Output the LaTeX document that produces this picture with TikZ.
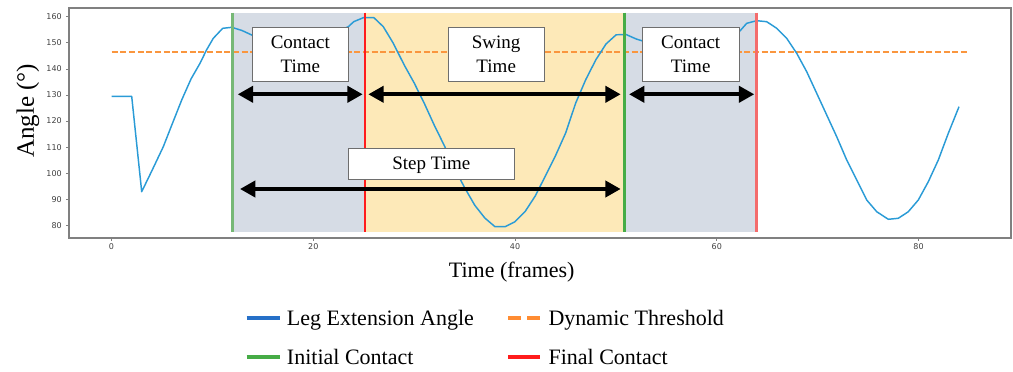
\documentclass[tikz,border=0pt]{standalone}
\usepackage{fontspec}
\setmainfont{Liberation Serif}
\newfontfamily\tickfont{DejaVu Sans}
\usepackage{tikz}
\usetikzlibrary{arrows.meta}
\definecolor{angleblue}{RGB}{42, 155, 214}
\definecolor{legblue}{RGB}{38, 112, 200}
\definecolor{throrange}{RGB}{250, 150, 62}
\definecolor{legorange}{RGB}{255, 140, 50}
\definecolor{icgreen}{RGB}{70, 172, 70}
\definecolor{icgreenlight}{RGB}{118, 184, 118}
\definecolor{fcred}{RGB}{255, 28, 28}
\definecolor{fcredlight}{RGB}{244, 108, 108}
\definecolor{stancegray}{RGB}{214, 220, 229}
\definecolor{swingyellow}{RGB}{253, 233, 184}
\definecolor{framegray}{RGB}{128, 128, 128}
\definecolor{boxgray}{RGB}{110, 110, 110}
\definecolor{ticktext}{RGB}{64, 64, 64}

\begin{document}
\begin{tikzpicture}[x=0.75pt,y=0.75pt,yscale=-1,xscale=1,
  phasebox/.style={draw=boxgray, fill=white, line width=0.75pt, inner sep=0pt, align=center, font=\fontsize{14.25}{18}\selectfont},
  gaitarrow/.style={line width=3.2pt, {Triangle[length=11.5pt,width=12pt]}-{Triangle[length=11.5pt,width=12pt]}},
  eventline/.style={line width=2.1pt},
  ticklabel/.style={inner sep=0.75pt, text=ticktext, font=\tickfont\fontsize{6}{7}\selectfont},
  legline/.style={line width=3pt},
  legtext/.style={anchor=base west, inner sep=0pt, font=\fontsize{16.5}{19}\selectfont}
]
\useasboundingbox (0,0) rectangle (1013,371);

%Shape: Rectangle (stance, swing, stance)
\fill [stancegray] (232.3,12.7) rectangle (365,231.7);
\fill [swingyellow] (365,12.7) rectangle (624.3,231.7);
\fill [stancegray] (624.3,12.7) rectangle (756.3,231.7);

%Straight Lines (threshold)
\draw [throrange, line width=1.3pt, dash pattern={on 4.5pt off 2pt}] (111.5,51.7) -- (968,51.7);

%Curve Lines (leg extension angle)
\draw [angleblue, line width=1.1pt, line join=round] (111.7,96.3) -- (131.7,96.3) -- (141.7,191.7) -- (152,170.5) -- (163.3,146.7) -- (172,124.5) -- (181.7,100) -- (191,79) -- (200,63.3) -- (206.5,50) -- (213.3,38.3) -- (222.7,28.3) -- (231.7,27.3) -- (242,30.5) -- (251.7,35) -- (262,39) -- (272,41.5) -- (282,42.5) -- (292,42.5) -- (302,41.5) -- (312,39.5) -- (322,37) -- (332,33.5) -- (341,30) -- (348.3,26.7) -- (353.7,21.7) -- (363.8,17.5) -- (373.9,17.7) -- (383.3,26.7) -- (393.3,43.3) -- (404.2,65) -- (414.2,83) -- (424.3,103.4) -- (434.4,125.5) -- (444.5,146) -- (454.6,168.6) -- (464.7,187.8) -- (474.8,205.3) -- (484.9,218.1) -- (495,226.7) -- (505,226.7) -- (515,221.7) -- (525,211.7) -- (535.3,195.9) -- (545.4,175.9) -- (555.5,155.7) -- (565.6,133.1) -- (575.7,103) -- (585.8,79.5) -- (595.9,59.7) -- (606,44) -- (616.1,34.8) -- (626.1,34.5) -- (636.2,39) -- (641.7,40.7) -- (652,43) -- (662,44.5) -- (672,45) -- (682,44.5) -- (692,43.5) -- (702,41.5) -- (712,39) -- (722,36.5) -- (732,34) -- (739.3,31.7) -- (746.7,23.3) -- (756.7,20.7) -- (766.7,21.7) -- (776.7,28.3) -- (786.7,38.3) -- (796.7,53.3) -- (806.7,71.7) -- (816.7,93.3) -- (826.7,115) -- (836.7,136.7) -- (846.7,160) -- (856.7,180) -- (866.7,200) -- (876.7,211.7) -- (888.3,219.3) -- (898.3,218.3) -- (908.3,211.7) -- (918.3,200) -- (928.3,181.7) -- (938.3,160) -- (948.3,133.3) -- (959,106.7) ;

%Straight Lines (initial / final contact)
\draw [eventline, icgreenlight] (232.3,12.7) -- (232.3,231.7) ;
\draw [eventline, fcred] (365,12.7) -- (365,231.7) ;
\draw [eventline, icgreen] (624.3,12.7) -- (624.3,231.7) ;
\draw [eventline, fcredlight] (756.3,12.7) -- (756.3,231.7) ;

%Shape: Rectangle (axes frame)
\draw [framegray, line width=1.1pt] (69,8) rectangle (1011,238) ;

% y ticks
\draw [framegray, line width=0.6pt] (66,16.7) -- (69,16.7) (66,42.8) -- (69,42.8) (66,68.9) -- (69,68.9) (66,94.9) -- (69,94.9) (66,121) -- (69,121) (66,147.1) -- (69,147.1) (66,173.2) -- (69,173.2) (66,199.3) -- (69,199.3) (66,225.3) -- (69,225.3) ;
\draw (63,16.7) node (y160) [anchor=east][ticklabel] {160};
\draw (63,42.8) node (y150) [anchor=east][ticklabel] {150};
\draw (63,68.9) node (y140) [anchor=east][ticklabel] {140};
\draw (63,94.9) node (y130) [anchor=east][ticklabel] {130};
\draw (63,121) node (y120) [anchor=east][ticklabel] {120};
\draw (63,147.1) node (y110) [anchor=east][ticklabel] {110};
\draw (63,173.2) node (y100) [anchor=east][ticklabel] {100};
\draw (63,199.3) node (y90) [anchor=east][ticklabel] {90};
\draw (63,225.3) node (y80) [anchor=east][ticklabel] {80};

% x ticks
\draw [framegray, line width=0.6pt] (111.5,238) -- (111.5,241) (313.3,238) -- (313.3,241) (515,238) -- (515,241) (716.8,238) -- (716.8,241) (918.5,238) -- (918.5,241) ;
\draw (111.5,242) node (x0) [anchor=north][ticklabel] {0};
\draw (313.3,242) node (x20) [anchor=north][ticklabel] {20};
\draw (515,242) node (x40) [anchor=north][ticklabel] {40};
\draw (716.8,242) node (x60) [anchor=north][ticklabel] {60};
\draw (918.5,242) node (x80) [anchor=north][ticklabel] {80};

% Axis titles
\draw (28,110.8) node (ylab) [inner sep=0pt, rotate=90, font=\fontsize{18.75}{22}\selectfont] {Angle (°)};
\draw (511.7,277.3) node (xlab) [anchor=base, inner sep=0pt, font=\fontsize{16.5}{19}\selectfont] {Time (frames)};

% Text Node (phase boxes)
\draw (300.3,54.2) node (ct1) [phasebox, minimum width=72pt, minimum height=40.3pt] {Contact\\Time};
\draw (496.2,54.2) node (sw) [phasebox, minimum width=71.8pt, minimum height=40.3pt] {Swing\\Time};
\draw (690.7,54.2) node (ct2) [phasebox, minimum width=72.5pt, minimum height=40.3pt] {Contact\\Time};
\draw (431.3,163.7) node (st) [phasebox, minimum width=124.5pt, minimum height=23pt, text height=9.4pt, text depth=0pt] {Step Time};

% arrow ends
\coordinate (ct1a) at (237.7,94.3);
\coordinate (ct1b) at (362.7,94.3);
\coordinate (swa) at (368.3,94.3);
\coordinate (swb) at (620.7,94.3);
\coordinate (ct2a) at (629,94.3);
\coordinate (ct2b) at (754.3,94.3);
\coordinate (sta) at (240,189);
\coordinate (stb) at (620.7,189);

%Straight Lines (double arrows)
\draw [gaitarrow] (ct1a) -- (ct1b) ;
\draw [gaitarrow] (swa) -- (swb) ;
\draw [gaitarrow] (ct2a) -- (ct2b) ;
\draw [gaitarrow] (sta) -- (stb) ;

% Legend
\draw [legline, legblue] (246.7,318.3) -- (280,318.3) ;
\draw [legline, legorange, dash pattern={on 9.75pt off 4.5pt}] (508.3,318.3) -- (540,318.3) ;
\draw [legline, icgreen] (246.7,357.3) -- (280,357.3) ;
\draw [legline, fcred] (508.3,357.3) -- (540,357.3) ;
\draw (286.7,325) node (lg1) [legtext] {Leg Extension Angle};
\draw (548.3,325) node (lg2) [legtext] {Dynamic Threshold};
\draw (286.7,364.5) node (lg3) [legtext] {Initial Contact};
\draw (548.3,364.5) node (lg4) [legtext] {Final Contact};

\end{tikzpicture}
\end{document}
